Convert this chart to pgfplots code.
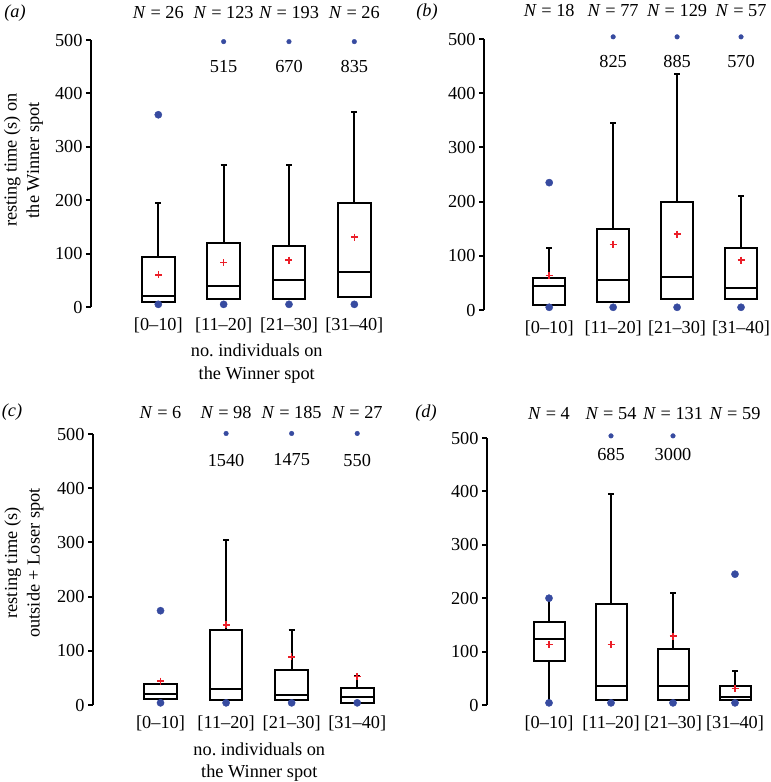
\documentclass[border=0pt]{standalone}
\usepackage{fontspec}
\setmainfont{Liberation Serif}
\usepackage{pgfplots}
\pgfplotsset{compat=1.18}
\usepgfplotslibrary{statistics}
\definecolor{dotblue}{RGB}{55,75,160}
\definecolor{meanred}{RGB}{235,30,40}
\newcommand{\fs}{\fontsize{18.3}{22.5}\selectfont}
\pgfplotsset{
  panel/.style={
    scale only axis, anchor=south west,
    axis y line=left, axis x line=bottom,
    x axis line style={draw=none},
    y axis line style={-, line width=2pt},
    ymin=0, ymax=500, ytick={0,100,...,500},
    xtick={1,2,3,4},
    xticklabels={{[0--10]},{[11--20]},{[21--30]},{[31--40]}},
    tick align=outside, major tick length=5pt,
    xtick style={draw=none},
    ytick style={line width=2pt, black},
    clip=false,
    font=\fs,
    tick label style={font=\fs},
    /pgf/number format/assume math mode=true,
    xticklabel style={yshift=-2pt},
    boxplot/box extend=0.5, boxplot/whisker extend=0.09,
    boxplot/draw direction=y,
    boxplot/every box/.style={line width=2pt},
    boxplot/every median/.style={line width=2pt},
    boxplot/every whisker/.style={line width=2pt},
  },
  bx/.style={black, line width=2pt, solid, mark=none},
  bigdot/.style={only marks, mark=*, mark size=3.6pt, dotblue, mark options={draw=dotblue, fill=dotblue}},
  smalldot/.style={only marks, mark=*, mark size=2.3pt, dotblue, mark options={draw=dotblue, fill=dotblue}},
  meanp/.style={only marks, mark=+, mark size=3.5pt, meanred, mark options={line width=1.5pt}},
}
\begin{document}
\begin{tikzpicture}
\useasboundingbox (0pt,0pt) rectangle (771pt,-782pt);
\node[font=\fs] at (15pt,-13pt) {\textit{(a)}};
\node[font=\fs] at (427pt,-12pt) {\textit{(b)}};
\node[font=\fs] at (12pt,-412pt) {\textit{(c)}};
\node[font=\fs] at (426pt,-413pt) {\textit{(d)}};

% ---------------- (a)
\begin{axis}[panel, at={(91pt,-307pt)}, width=296pt, height=267pt, xmin=-0.03, xmax=4.5,
  ylabel={resting time (s) on\\the Winner spot},
  ylabel style={align=center, at={(axis description cs:-0.228,0.55)}, anchor=center, font=\fs},
  xlabel={no.\ individuals on\\the Winner spot},
  xlabel style={align=center, at={(axis description cs:0.56,-0.212)}, anchor=center, font=\fs}]
\addplot[bx, boxplot prepared={draw position=1, lower whisker=10, lower quartile=10, median=20, upper quartile=93, upper whisker=195}] coordinates {};
\addplot[bx, boxplot prepared={draw position=2, lower whisker=15, lower quartile=15, median=40, upper quartile=120, upper whisker=265}] coordinates {};
\addplot[bx, boxplot prepared={draw position=3, lower whisker=15, lower quartile=15, median=50, upper quartile=115, upper whisker=265}] coordinates {};
\addplot[bx, boxplot prepared={draw position=4, lower whisker=18, lower quartile=18, median=65, upper quartile=195, upper whisker=365}] coordinates {};
\addplot[bigdot] coordinates {(1,5) (1,360) (2,5) (3,5) (4,5)};
\addplot[smalldot] coordinates {(2,497) (3,497) (4,497)};
\addplot[meanp] coordinates {(1,60) (2,83) (3,88) (4,131)};
\node at (axis cs:1,551) {\textit{N} = 26};
\node at (axis cs:2,551) {\textit{N} = 123};
\node at (axis cs:3,551) {\textit{N} = 193};
\node at (axis cs:4,551) {\textit{N} = 26};
\node at (axis cs:2,451) {515};
\node at (axis cs:3,451) {670};
\node at (axis cs:4,451) {835};
\end{axis}

% ---------------- (b)
\begin{axis}[panel, at={(484pt,-310pt)}, width=289pt, height=271pt, xmin=-0.02, xmax=4.5]
\addplot[bx, boxplot prepared={draw position=1, lower whisker=9, lower quartile=9, median=44, upper quartile=59, upper whisker=115}] coordinates {};
\addplot[bx, boxplot prepared={draw position=2, lower whisker=15, lower quartile=15, median=55, upper quartile=150, upper whisker=345}] coordinates {};
\addplot[bx, boxplot prepared={draw position=3, lower whisker=20, lower quartile=20, median=61, upper quartile=200, upper whisker=435}] coordinates {};
\addplot[bx, boxplot prepared={draw position=4, lower whisker=20, lower quartile=20, median=41, upper quartile=115, upper whisker=210}] coordinates {};
\addplot[bigdot] coordinates {(1,5) (1,235) (2,5) (3,5) (4,5)};
\addplot[smalldot] coordinates {(2,504) (3,504) (4,504)};
\addplot[meanp] coordinates {(1,64) (2,121) (3,140) (4,92)};
\node at (axis cs:1,553) {\textit{N} = 18};
\node at (axis cs:2,553) {\textit{N} = 77};
\node at (axis cs:3,553) {\textit{N} = 129};
\node at (axis cs:4,553) {\textit{N} = 57};
\node at (axis cs:2,459) {825};
\node at (axis cs:3,459) {885};
\node at (axis cs:4,459) {570};
\end{axis}

% ---------------- (c)
\begin{axis}[panel, at={(93pt,-705pt)}, width=297pt, height=271pt, xmin=-0.03, xmax=4.5,
  ylabel={resting time (s)\\outside + Loser spot},
  ylabel style={align=center, at={(axis description cs:-0.232,0.524)}, anchor=center, font=\fs},
  xlabel={no.\ individuals on\\the Winner spot},
  xlabel style={align=center, at={(axis description cs:0.56,-0.21)}, anchor=center, font=\fs}]
\addplot[bx, boxplot prepared={draw position=1, lower whisker=11, lower quartile=11, median=20, upper quartile=39, upper whisker=39}] coordinates {};
\addplot[bx, boxplot prepared={draw position=2, lower whisker=9, lower quartile=9, median=30, upper quartile=139, upper whisker=304}] coordinates {};
\addplot[bx, boxplot prepared={draw position=3, lower whisker=9, lower quartile=9, median=19, upper quartile=64, upper whisker=139}] coordinates {};
\addplot[bx, boxplot prepared={draw position=4, lower whisker=4, lower quartile=4, median=15, upper quartile=31, upper whisker=54}] coordinates {};
\addplot[bigdot] coordinates {(1,4) (1,174) (2,4) (3,4) (4,4)};
\addplot[smalldot] coordinates {(2,501) (3,501) (4,501)};
\addplot[meanp] coordinates {(1,44) (2,148) (3,89) (4,53)};
\node at (axis cs:1,540) {\textit{N} = 6};
\node at (axis cs:2,540) {\textit{N} = 98};
\node at (axis cs:3,540) {\textit{N} = 185};
\node at (axis cs:4,540) {\textit{N} = 27};
\node at (axis cs:2,452) {1540};
\node at (axis cs:3,452) {1475};
\node at (axis cs:4,452) {550};
\end{axis}

% ---------------- (d)
\begin{axis}[panel, at={(487pt,-705pt)}, width=279pt, height=267pt, xmin=0, xmax=4.5]
\addplot[bx, boxplot prepared={draw position=1, lower whisker=4, lower quartile=83, median=124, upper quartile=155, upper whisker=199}] coordinates {};
\addplot[bx, boxplot prepared={draw position=2, lower whisker=9, lower quartile=9, median=35, upper quartile=189, upper whisker=395}] coordinates {};
\addplot[bx, boxplot prepared={draw position=3, lower whisker=9, lower quartile=9, median=35, upper quartile=104, upper whisker=210}] coordinates {};
\addplot[bx, boxplot prepared={draw position=4, lower whisker=9, lower quartile=9, median=15, upper quartile=35, upper whisker=64}] coordinates {};
\addplot[bigdot] coordinates {(1,4) (1,200) (2,4) (3,4) (4,4) (4,245)};
\addplot[smalldot] coordinates {(2,504) (3,504)};
\addplot[meanp] coordinates {(1,113) (2,113) (3,129) (4,31)};
\node at (axis cs:1,546) {\textit{N} = 4};
\node at (axis cs:2,546) {\textit{N} = 54};
\node at (axis cs:3,546) {\textit{N} = 131};
\node at (axis cs:4,546) {\textit{N} = 59};
\node at (axis cs:2,470) {685};
\node at (axis cs:3,470) {3000};
\end{axis}
\end{tikzpicture}
\end{document}
